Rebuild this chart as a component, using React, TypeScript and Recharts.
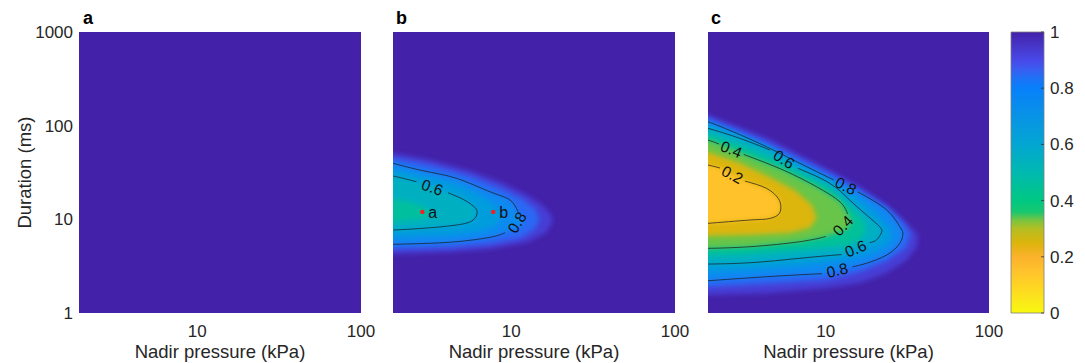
import React from "react";
import { Bar, BarChart, CartesianGrid, ComposedChart, Curve, Scatter, XAxis, YAxis } from "recharts";

const FONT = '"Liberation Sans", Arial, Helvetica, sans-serif';
const INK = "#262626";
const BG = "#4321a9";

// axes
const X_DOMAIN = [1.9, 100];
const Y_DOMAIN = [1, 1000];
const X_TICKS = [10, 100];
const Y_TICKS = [1, 10, 100, 1000];
const CBAR_TICKS = [0, 0.2, 0.4, 0.6, 0.8, 1];

// colour map
const CMAP_VALUES = [0, 0.05, 0.1, 0.15, 0.2, 0.25, 0.3, 0.33, 0.36, 0.4, 0.5, 0.6, 0.7, 0.8, 0.83, 0.87, 0.9, 0.95, 1];
const CMAP_COLORS = ["#f8f80f", "#fbe61c", "#fed324", "#ffc22c", "#fbb22c", "#dcb50c", "#b4be22", "#78c440", "#18c870", "#00c882", "#00b9b0", "#03a6d2", "#0893e6", "#0780fa", "#1a74f6", "#3b5cf0", "#4848e8", "#4636c8", BG];

// [pressure kPa, duration ms, flag]  flag L = label gap ends here, H = under a label
// panel b
const B_EDGE = [[1.65, 51], [1.9, 51], [3.2, 42.9], [5.62, 32.8], [8.57, 25], [12.5, 18.2], [15.5, 14.2], [17.6, 11.1], [17.8, 9.13], [16.2, 7.14], [12.7, 5.72], [7.45, 4.82], [4.24, 4.48], [1.9, 4.26], [1.65, 4.26]];
const B_090 = [[1.65, 45.1], [1.9, 45.1], [3.2, 38], [5.62, 29], [8.57, 21.6], [11.7, 16.5], [14, 12.9], [14.9, 10.1], [14, 7.88], [11.4, 6.31], [7.45, 5.45], [4.24, 5], [1.9, 4.82], [1.65, 4.82]];
const B_080 = [[1.65, 41.5], [1.9, 39.6], [2.9, 33], [4.64, 27.4], [7.42, 19.7], [9.83, 16.1], [11, 12.05], [12, 10.3, "H"], [11.5, 8.28, "H"], [9.16, 7.19, "L"], [7.42, 6.43], [4.64, 5.77], [2.9, 5.52], [1.9, 5.41], [1.65, 5.39]];
const B_070 = [[1.65, 33.6], [1.9, 33.6], [2.9, 29], [4.68, 23.2], [6.47, 17.7], [7.99, 13.9], [8.7, 10.8], [8.1, 8.7], [6.47, 7.5], [4.24, 6.8], [1.9, 6.47], [1.65, 6.47]];
const B_060 = [[1.65, 29.5], [1.9, 29], [2.64, 25.2], [4.12, 19.2, "L"], [5.09, 16.35], [5.86, 13.9], [6.2, 12], [5.86, 9.83], [4.64, 8.7], [2.9, 8.02], [1.9, 7.69], [1.65, 7.65]];
const B_050 = [[1.65, 16.5], [1.9, 16.5], [2.41, 15.3], [2.98, 13.5], [3.2, 11.7], [2.9, 10.1], [2.25, 9.59], [1.9, 9.36], [1.65, 9.36]];
const B_POINTS = [{ p: 2.87, d: 12, name: "a" }, { p: 7.77, d: 12, name: "b" }];

// panel c
const C_EDGE = [[1.65, 140], [1.9, 129.8], [2.7, 101.4], [4.34, 73.8], [6.94, 48.6], [11, 32], [16.2, 22.1], [23.6, 14.2], [31.3, 9.13], [36.6, 6.8], [36.1, 5.06], [31.3, 3.68], [23.6, 2.67], [16.2, 2.09], [10.1, 1.85], [4.34, 1.63], [1.9, 1.56], [1.65, 1.56]];
const C_090 = [[1.65, 123.6], [1.9, 120], [2.7, 94.2], [4.34, 66.8], [6.94, 44], [11, 29.7], [16.2, 20.5], [23.6, 13.5], [29.6, 9.36], [33.1, 6.97], [30.9, 4.94], [23.6, 3.59], [16.2, 2.74], [10.1, 2.25], [4.34, 2.04], [1.9, 1.9], [1.65, 1.9]];
const C_080 = [[1.65, 118], [1.9, 110], [2.71, 86], [4.34, 59.5], [6.94, 39.6], [11.2, 26.3], [15.7, 19.6, "L"], [23.6, 12.6], [28.4, 8.34], [29.7, 7.09], [28.4, 5.54], [23.6, 4.16], [17.7, 3.39], [14.6, 3.12], [9.46, 2.63, "L"], [4.34, 2.44], [1.9, 2.21], [1.65, 2.19]];
const C_070 = [[1.65, 104], [1.9, 101.4], [2.98, 77.4], [4.42, 57.7], [6.94, 38], [10.9, 25.6], [15.7, 16.9], [20.2, 11.7], [24.4, 8.08], [25.3, 6.63], [23.9, 5.45], [19.4, 4.48], [13.1, 3.68], [6.94, 3.17], [3.43, 2.91], [1.9, 2.74], [1.65, 2.74]];
const C_060 = [[1.65, 97], [1.9, 93.6], [2.98, 73.2], [4.55, 54.9], [6.77, 35, "L"], [10.6, 24.2], [14, 16.1], [17.8, 11.1], [21.4, 8.34], [21.9, 7.16], [20.4, 6.01], [18.6, 5.65], [12.5, 4.21, "L"], [6.94, 3.84], [3.43, 3.44], [1.9, 3.33], [1.65, 3.31]];
const C_050 = [[1.65, 84], [1.9, 81.3], [2.98, 62.1], [4.55, 45.1], [6.94, 32], [10.6, 21.6], [13.6, 14.6], [16.6, 10.3], [17.6, 8.08], [16.6, 6.31], [13.1, 5.19], [6.94, 4.7], [3.43, 4.26], [1.9, 4.06], [1.65, 4.06]];
const C_040 = [[1.65, 72], [1.9, 70.2], [2.22, 63.6], [3.15, 49.2, "L"], [5.49, 33.6], [8.78, 22.3], [12.2, 15.4], [13.6, 11.4], [14.4, 9.36, "H"], [13.3, 7.69, "H"], [10, 6.55, "L"], [6.94, 5.77], [3.43, 5.1], [1.9, 4.9], [1.65, 4.88]];
const C_030 = [[1.65, 53], [1.9, 52.3], [2.98, 39.9], [4.55, 28.3], [6.47, 20.5], [8.22, 14.2], [8.82, 10.3], [7.99, 8.08], [6, 7.14], [3.43, 6.8], [1.9, 6.63], [1.65, 6.63]];
const C_020 = [[1.65, 39], [1.9, 38], [2.25, 35.3], [3.2, 25.6, "L"], [4.34, 21.4], [5.12, 16.7], [5.31, 13.6], [5.09, 11.1], [4.34, 10.07], [3.43, 9.83], [1.9, 9.06], [1.65, 9]];

// level = contour value of the boundary, tone = colour-map value used inside it
const B_FILLS = [
  { tone: 0.93, rows: B_EDGE },
  { tone: 0.85, rows: B_090 },
  { tone: 0.75, rows: B_080 },
  { tone: 0.65, rows: B_070 },
  { tone: 0.55, rows: B_060 },
  { tone: 0.46, rows: B_050 },
];
const B_LINES = [{ level: 0.8, rows: B_080 }, { level: 0.6, rows: B_060 }];
const C_FILLS = [
  { tone: 0.93, rows: C_EDGE },
  { tone: 0.85, rows: C_090 },
  { tone: 0.75, rows: C_080 },
  { tone: 0.65, rows: C_070 },
  { tone: 0.55, rows: C_060 },
  { tone: 0.45, rows: C_050 },
  { tone: 0.335, rows: C_040 },
  { tone: 0.25, rows: C_030 },
  { tone: 0.15, rows: C_020 },
];
const C_LINES = [{ level: 0.8, rows: C_080 }, { level: 0.6, rows: C_060 }, { level: 0.4, rows: C_040 }, { level: 0.2, rows: C_020 }];

const toData = (rows: any[]) => rows.map((r) => ({ p: r[0], d: r[1] }));

function rgb(h: string) {
  const n = parseInt(h.slice(1), 16);
  return [(n >> 16) & 255, (n >> 8) & 255, n & 255];
}

function cmap(v: number) {
  const t = Math.max(0, Math.min(1, v));
  let i = 0;
  while (i < CMAP_VALUES.length - 2 && t > CMAP_VALUES[i + 1]) i++;
  const f = (t - CMAP_VALUES[i]) / (CMAP_VALUES[i + 1] - CMAP_VALUES[i]);
  const a = rgb(CMAP_COLORS[i]);
  const b = rgb(CMAP_COLORS[i + 1]);
  const c = a.map((x, k) => Math.round(x + (b[k] - x) * f));
  return `rgb(${c[0]},${c[1]},${c[2]})`;
}

const noDot = () => <g />;

const fillLine = (color: string, filterId: string) => (props: any) => (
  <g filter={`url(#${filterId})`}>
    <Curve type="linearClosed" points={props.points} fill={color} stroke="none" />
  </g>
);

const contourLine = (rows: any[], level: number) => (props: any) => {
  const pix = props.points;
  const segs: any[] = [];
  const labels: any[] = [];
  let cur: any[] = [];
  let hidden: any[] = [];
  rows.forEach((r, i) => {
    const pt = pix[i];
    if (r[2] === "H") {
      hidden.push(pt);
      return;
    }
    if (r[2] === "L") {
      const a = cur[cur.length - 1];
      segs.push(cur);
      const run = [a, ...hidden, pt];
      let ang = (Math.atan2(pt.y - a.y, pt.x - a.x) * 180) / Math.PI;
      if (ang > 90) ang -= 180;
      if (ang < -90) ang += 180;
      labels.push({
        x: run.reduce((s, q) => s + q.x, 0) / run.length,
        y: run.reduce((s, q) => s + q.y, 0) / run.length,
        ang,
      });
      cur = [pt];
      hidden = [];
      return;
    }
    cur.push(pt);
  });
  segs.push(cur);
  return (
    <g>
      {segs.map((s, i) => (
        <Curve key={i} type="natural" points={s} fill="none" stroke="#1a1a1a" strokeWidth={0.7} />
      ))}
      {labels.map((l, i) => (
        <text
          key={`t${i}`}
          x={l.x}
          y={l.y}
          transform={`rotate(${l.ang} ${l.x} ${l.y})`}
          textAnchor="middle"
          dominantBaseline="central"
          fontSize={15.5}
          fontFamily={FONT}
          fill="#111"
        >
          {level.toFixed(1)}
        </text>
      ))}
    </g>
  );
};

const markPoint = (props: any) => (
  <g>
    <circle cx={props.cx} cy={props.cy} r={2.2} fill="#ff1a1a" />
    <text x={props.cx + 6} y={props.cy} dy="0.35em" fontSize={16} fontFamily={FONT} fill="#111">
      {props.payload.name}
    </text>
  </g>
);

type PanelProps = {
  id: string;
  plotL: number;
  plotR: number;
  showY?: boolean;
  fills?: any[];
  lines?: any[];
  marks?: any[];
};

function Panel({ id, plotL, plotR, showY, fills = [], lines = [], marks }: PanelProps) {
  const yW = showY ? 60 : 0;
  return (
    <div style={{ position: "absolute", left: 0, top: 0 }}>
      <ComposedChart width={1085} height={363} margin={{ top: 32, right: 1085 - plotR, bottom: 0, left: plotL - yW }}>
        <defs>
          <filter id={id} x="-20%" y="-20%" width="140%" height="140%">
            <feGaussianBlur stdDeviation="2.5" />
          </filter>
        </defs>
        <CartesianGrid fill={BG} horizontal={false} vertical={false} stroke="none" />
        <XAxis
          dataKey="p"
          type="number"
          scale="log"
          domain={X_DOMAIN}
          allowDataOverflow
          ticks={X_TICKS}
          interval={0}
          axisLine={false}
          tickLine={false}
          tickSize={6}
          tickMargin={6}
          height={50}
          tick={{ fontSize: 17, fill: INK, fontFamily: FONT }}
          label={{ value: "Nadir pressure (kPa)", position: "insideBottom", offset: 5, fontSize: 18.5, fill: INK, fontFamily: FONT }}
        />
        <YAxis
          dataKey="d"
          type="number"
          scale="log"
          domain={Y_DOMAIN}
          allowDataOverflow
          ticks={Y_TICKS}
          interval={0}
          hide={!showY}
          width={yW}
          axisLine={false}
          tickLine={false}
          tickSize={4}
          tickMargin={2}
          tick={{ fontSize: 17, fill: INK, fontFamily: FONT }}
          label={
            showY
              ? { value: "Duration (ms)", angle: -90, position: "insideLeft", offset: 5, fontSize: 18.5, fill: INK, fontFamily: FONT, style: { textAnchor: "middle" } }
              : undefined
          }
        />
        {fills.map((f, i) => (
          <Scatter
            key={`f${i}`}
            data={toData(f.rows)}
            shape={noDot}
            line={fillLine(cmap(f.tone), id)}
            isAnimationActive={false}
          />
        ))}
        {lines.map((c, i) => (
          <Scatter
            key={`c${i}`}
            data={toData(c.rows)}
            shape={noDot}
            line={contourLine(c.rows, c.level)}
            isAnimationActive={false}
          />
        ))}
        {marks && <Scatter data={marks} shape={markPoint} isAnimationActive={false} />}
      </ComposedChart>
    </div>
  );
}

const CBAR_DATA = [{ n: "cb", v: 1 }];

const cbarTick = (props: any) => (
  <g>
    <line x1={props.x - 9} x2={props.x - 6} y1={props.y} y2={props.y} stroke="#333" strokeWidth={0.8} />
    <text x={props.x} y={props.y} dy="0.35em" fontSize={17} fontFamily={FONT} fill={INK}>
      {String(props.payload.value)}
    </text>
  </g>
);

function ColorBar() {
  return (
    <div style={{ position: "absolute", left: 0, top: 0 }}>
      <BarChart width={1085} height={363} data={CBAR_DATA} margin={{ top: 32, right: 0, bottom: 50, left: 1011 }} barCategoryGap={0}>
        <defs>
          <linearGradient id="cbGrad" x1="0" y1="1" x2="0" y2="0">
            {CMAP_VALUES.map((v, i) => (
              <stop key={i} offset={v} stopColor={CMAP_COLORS[i]} />
            ))}
          </linearGradient>
        </defs>
        <XAxis dataKey="n" hide />
        <YAxis
          orientation="right"
          type="number"
          domain={[0, 1]}
          ticks={CBAR_TICKS}
          interval={0}
          width={41}
          axisLine={false}
          tickLine={false}
          tickSize={0}
          tickMargin={6}
          tick={cbarTick}
        />
        <Bar dataKey="v" fill="url(#cbGrad)" stroke="#7f7f7f" strokeWidth={0.8} isAnimationActive={false} />
      </BarChart>
    </div>
  );
}

export default function App() {
  return (
    <div style={{ position: "absolute", left: 0, top: 0, width: 1085, height: 363, background: "#fff", fontFamily: FONT }}>
      <Panel id="softA" plotL={79} plotR={361} showY />
      <Panel id="softB" plotL={393} plotR={675} fills={B_FILLS} lines={B_LINES} marks={B_POINTS} />
      <Panel id="softC" plotL={708} plotR={989} fills={C_FILLS} lines={C_LINES} />
      <ColorBar />
      <svg width={1085} height={363} style={{ position: "absolute", left: 0, top: 0, pointerEvents: "none" }}>
        {[
          ["a", 83],
          ["b", 396],
          ["c", 711],
        ].map(([t, x]) => (
          <text key={t as string} x={x as number} y={24} fontSize={18} fontWeight="bold" fontFamily={FONT} fill="#000">
            {t}
          </text>
        ))}
      </svg>
    </div>
  );
}
